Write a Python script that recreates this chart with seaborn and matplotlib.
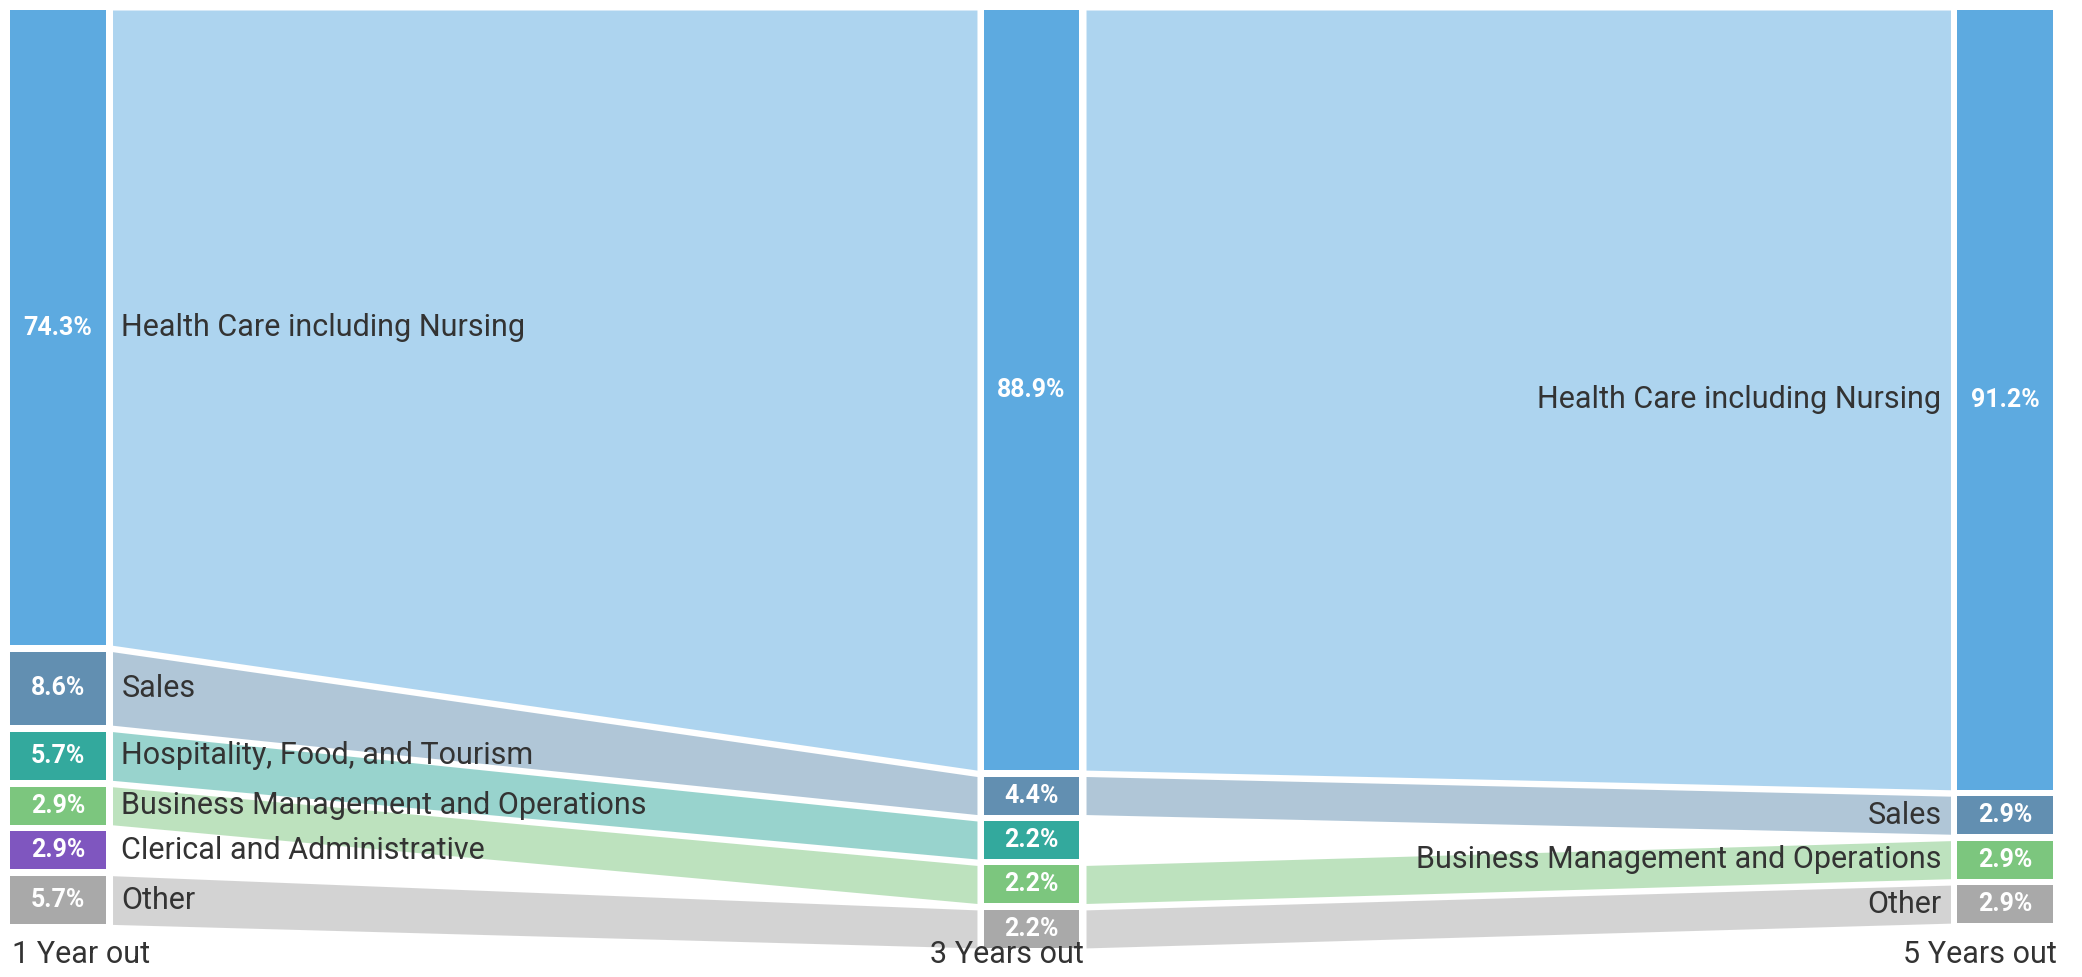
import matplotlib
matplotlib.use("Agg")
import matplotlib.pyplot as plt
import matplotlib.transforms as mtransforms
import seaborn as sns

sns.set_theme(style="white")
plt.rcParams['font.family'] = ['Roboto', 'DejaVu Sans']

# data (percent of respondents in each column)
columns = ["1 Year out", "3 Years out", "5 Years out"]
categories = ["Health Care including Nursing", "Sales", "Hospitality, Food, and Tourism",
              "Business Management and Operations", "Clerical and Administrative", "Other"]
year1 = [74.3, 8.6, 5.7, 2.9, 2.9, 5.7]
year3 = [88.9, 4.4, 2.2, 2.2, None, 2.2]
year5 = [91.2, 2.9, None, 2.9, None, 2.9]
node_colors = ["#5DAAE0", "#628FB1", "#33A99D", "#7CC67E", "#7F56BF", "#A9A9A9"]

values = [year1, year3, year5]

# layout settings (y in percent units, x in column units)
MIN_H = 4.45
GAP = 0.75
BW = 0.0986
FG = 0.0067
PAD = 0.0092

fig = plt.figure(figsize=(20.82, 9.77), dpi=100)
ax = fig.add_axes([0, 0, 1, 1])


def stack(col):
    out = {}
    y = 0.0
    for k, v in enumerate(col):
        if v is None:
            continue
        h = max(v, MIN_H)
        out[k] = (y, y + h)
        y += h + GAP
    return out


layout = [stack(c) for c in values]

# flows between neighbouring columns
for i in range(len(columns) - 1):
    x0 = i + BW + FG
    x1 = i + 1 - FG
    for k in layout[i]:
        if k in layout[i + 1]:
            t0, b0 = layout[i][k]
            t1, b1 = layout[i + 1][k]
            ax.fill_between([x0, x1], [t0, t1], [b0, b1], color=node_colors[k],
                            alpha=0.5, linewidth=0)

# nodes
for i, col in enumerate(values):
    for k, (top, bot) in layout[i].items():
        ax.bar(i, bot - top, bottom=top, width=BW, align='edge', color=node_colors[k],
               linewidth=0)
        ax.text(i + BW / 2, (top + bot) / 2, f"{col[k]:.1f}%", ha='center', va='center',
                color='white', fontsize=18, fontweight='bold')

# category labels on the first and last columns
for k, (top, bot) in layout[0].items():
    ax.text(BW + FG + PAD, (top + bot) / 2, categories[k], ha='left', va='center',
            fontsize=22, color='#333333')
last = len(columns) - 1
for k, (top, bot) in layout[last].items():
    ax.text(last - FG - PAD, (top + bot) / 2, categories[k], ha='right', va='center',
            fontsize=22, color='#333333')

# column titles along the bottom
trans = mtransforms.blended_transform_factory(ax.transData, ax.transAxes)
ax.text(0.002, 0.0143, columns[0], transform=trans, ha='left', va='baseline',
        fontsize=22, color='#333333')
for i in range(1, len(columns)):
    ax.text(i + BW + 0.004, 0.0143, columns[i], transform=trans, ha='right',
            va='baseline', fontsize=22, color='#333333')

ax.set_xlim(-0.01027, 2.1284)
ax.set_ylim(113.1, -1.17)
ax.axis('off')

fig.savefig("out.png", dpi=100, facecolor='white')
